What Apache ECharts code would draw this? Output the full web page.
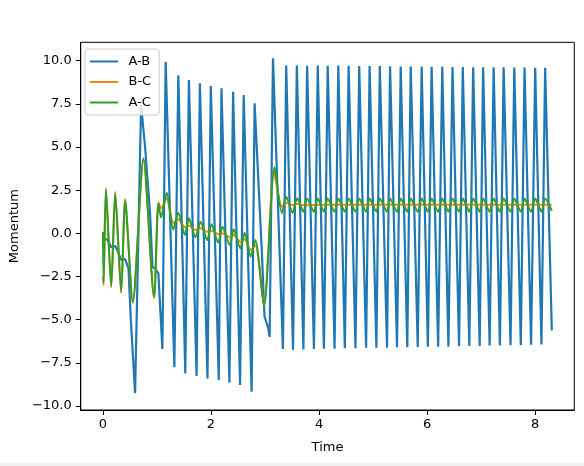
<!DOCTYPE html>
<html>
<head>
<meta charset="utf-8">
<script src="https://cdn.jsdelivr.net/npm/echarts@6/dist/echarts.min.js"></script>
<style>
html,body{margin:0;padding:0;background:#fff;overflow:hidden;}
#chart{width:584px;height:466px;}
#strip{position:absolute;left:0;top:463px;width:584px;height:3px;background:#f0f0f0;}
</style>
</head>
<body>
<div id="chart"></div>
<div id="strip"></div>
<script>
// ---- data ----
var seriesNames = ['A-B', 'B-C', 'A-C'];
var xTicks = [0, 2, 4, 6, 8];
var yTicks = [-10, -7.5, -5, -2.5, 0, 2.5, 5, 7.5, 10];

var abTime = [0, 0.015, 0.08, 0.153, 0.227, 0.276, 0.338, 0.41, 0.473, 0.516, 0.595, 0.706, 0.737, 0.78, 0.872, 0.916, 0.977, 1.026, 1.10, 1.161,
  1.322, 1.395, 1.524, 1.591, 1.733, 1.794, 1.935, 1.996, 2.144, 2.194, 2.341, 2.409, 2.538, 2.605, 2.752, 2.807,
  2.94, 2.99, 3.06, 3.085, 3.147,
  3.331, 3.392, 3.518, 3.589, 3.710, 3.779, 3.905, 3.976, 4.090, 4.160, 4.287, 4.356, 4.477, 4.547, 4.674, 4.743,
  4.871, 4.935, 5.061, 5.124, 5.258, 5.314, 5.443, 5.511, 5.633, 5.696, 5.826, 5.899, 6.014, 6.083, 6.204, 6.280,
  6.394, 6.470, 6.591, 6.660, 6.781, 6.852, 6.973, 7.036, 7.157, 7.231, 7.347, 7.416, 7.544, 7.613, 7.734, 7.803,
  7.924, 8.000, 8.116, 8.184, 8.308];
var abValue = [0.05, -0.35, -0.35, -0.81, -0.74, -1.06, -1.55, -1.49, -2.03, -5.0, -9.26, 7.43, 6.4, 5.0, 1.16, -1.93, -2.08, -2.32, -6.70, 9.93,
  -7.76, 9.15, -8.11, 8.88, -8.26, 8.69, -8.40, 8.53, -8.49, 8.40, -8.63, 8.20, -8.78, 8.01, -9.17, 7.53,
  -1.0, -4.8, -5.5, -6.0, 10.13,
  -6.70, 9.71, -6.75, 9.71, -6.72, 9.70, -6.70, 9.71, -6.68, 9.70, -6.68, 9.71, -6.66, 9.70, -6.66, 9.69,
  -6.63, 9.68, -6.63, 9.68, -6.62, 9.67, -6.60, 9.66, -6.60, 9.66, -6.58, 9.65, -6.57, 9.65, -6.56, 9.64,
  -6.56, 9.63, -6.54, 9.63, -6.53, 9.62, -6.52, 9.62, -6.50, 9.61, -6.50, 9.61, -6.48, 9.60, -6.47, 9.60,
  -6.45, 9.59, -6.44, 9.58, -5.62];

var bcTime = [0, 0.012, 0.055, 0.153, 0.227, 0.337, 0.411, 0.553, 0.750, 0.946, 1.027, 1.075, 1.180, 1.303, 1.395, 1.517,
  1.591, 1.714, 1.806, 1.930, 2.009, 2.133, 2.212, 2.347, 2.420, 2.544, 2.623, 2.734, 2.820, 2.981, 3.166,
  3.312, 3.40, 3.515, 3.60, 3.72, 4.0, 5.0, 6.0, 7.0, 8.308];
var bcValue = [-2.5, -3.0, 2.62, -3.15, 2.40, -3.45, 1.97, -4.02, 4.25, -3.75, 1.78, 1.45, 2.03, 0.61, 0.81, 0.36,
  0.45, 0.19, 0.29, 0.09, 0.15, -0.04, 0.0, -0.23, -0.10, -0.49, -0.35, -0.97, -0.68, -4.15, 3.57,
  1.54, 1.77, 1.64, 1.70, 1.63, 1.66, 1.65, 1.65, 1.65, 1.65];

var acTime = [0, 0.012, 0.055, 0.153, 0.227, 0.337, 0.411, 0.553, 0.750, 0.946, 1.027, 1.075, 1.180, 1.303, 1.395, 1.517,
  1.591, 1.714, 1.806, 1.930, 2.009, 2.133, 2.212, 2.347, 2.420, 2.544, 2.623, 2.734, 2.820, 2.981, 3.176,
  3.312, 3.392, 3.510, 3.594, 3.710,
  3.779, 3.905, 3.976, 4.090, 4.160, 4.287, 4.356, 4.477, 4.547, 4.674, 4.743, 4.871, 4.935, 5.061, 5.124,
  5.258, 5.314, 5.443, 5.511, 5.633, 5.696, 5.826, 5.899, 6.014, 6.083, 6.204, 6.280, 6.394, 6.470, 6.591, 6.660,
  6.781, 6.852, 6.973, 7.036, 7.157, 7.231, 7.347, 7.416, 7.544, 7.613, 7.734, 7.803, 7.924, 8.000, 8.116, 8.184, 8.308];
var acValue = [0.05, -2.85, 2.55, -3.05, 2.32, -3.38, 1.89, -3.96, 4.34, -3.67, 1.74, 0.93, 2.35, 0.23, 1.19, -0.10,
  0.87, -0.23, 0.67, -0.39, 0.52, -0.54, 0.38, -0.68, 0.23, -0.87, 0.03, -1.35, -0.39, -4.21, 3.82,
  1.16, 2.12, 1.19, 2.03, 1.25,
  2.02, 1.25, 2.02, 1.25, 2.02, 1.25, 2.02, 1.25, 2.02, 1.25, 2.02, 1.25, 2.02, 1.25, 2.02,
  1.25, 2.02, 1.25, 2.02, 1.25, 2.02, 1.25, 2.02, 1.25, 2.02, 1.25, 2.02, 1.25, 2.02, 1.25, 2.02,
  1.25, 2.02, 1.25, 2.02, 1.25, 2.02, 1.25, 2.02, 1.25, 2.02, 1.25, 2.02, 1.25, 2.02, 1.25, 2.02, 1.30];

// ---- chart ----
function pairs(ts, vs) { return ts.map(function (t, i) { return [t, vs[i]]; }); }
var colors = ['#1f77b4', '#ff7f0e', '#2ca02c'];
var font = 'DejaVu Sans';
function fmt(v) { return (v < 0 ? '\u2212' : '') + Math.abs(v).toFixed(1); }

var chart = echarts.init(document.getElementById('chart'), null, {renderer: 'canvas'});
chart.setOption({
  animation: false,
  color: colors,
  textStyle: {fontFamily: font},
  grid: {left: 78.7, right: 9.7, top: 42.3, bottom: 56, show: true, borderColor: '#000', borderWidth: 1, backgroundColor: 'transparent'},
  legend: {
    orient: 'vertical', left: 85, top: 49,
    data: seriesNames,
    icon: 'rect',
    itemWidth: 28, itemHeight: 2, itemGap: 6.5,
    padding: [5.5, 8, 5.5, 5],
    backgroundColor: 'rgba(255,255,255,0.8)',
    borderColor: '#cccccc', borderWidth: 1, borderRadius: 3,
    textStyle: {fontFamily: font, fontSize: 13, lineHeight: 14, color: '#000', padding: [0, 0, 0, 5.5]}
  },
  xAxis: {
    type: 'value', min: -0.411, max: 8.724,
    name: 'Time', nameLocation: 'middle', nameGap: 31,
    nameTextStyle: {fontFamily: font, fontSize: 13, color: '#000'},
    axisLine: {show: true, onZero: false, lineStyle: {color: '#000', width: 1}},
    axisTick: {show: true, customValues: xTicks, length: 5, lineStyle: {color: '#000', width: 1}},
    axisLabel: {customValues: xTicks, fontFamily: font, fontSize: 13, color: '#000', margin: 8, formatter: function (v) { return String(v); }},
    splitLine: {show: false}
  },
  yAxis: {
    type: 'value', min: -10.23, max: 11.06,
    name: 'Momentum', nameLocation: 'middle', nameGap: 57, nameRotate: 90,
    nameTextStyle: {fontFamily: font, fontSize: 13, color: '#000'},
    axisLine: {show: true, onZero: false, lineStyle: {color: '#000', width: 1}},
    axisTick: {show: true, customValues: yTicks, length: 5, lineStyle: {color: '#000', width: 1}},
    axisLabel: {customValues: yTicks, fontFamily: font, fontSize: 13, color: '#000', margin: 9, formatter: fmt},
    splitLine: {show: false}
  },
  series: [
    {name: seriesNames[0], type: 'line', data: pairs(abTime, abValue), symbol: 'none', showSymbol: false, lineStyle: {width: 2.2, color: colors[0]}, itemStyle: {color: colors[0]}},
    {name: seriesNames[1], type: 'line', data: pairs(bcTime, bcValue), symbol: 'none', showSymbol: false, smooth: 0.25, lineStyle: {width: 2, color: colors[1]}, itemStyle: {color: colors[1]}},
    {name: seriesNames[2], type: 'line', data: pairs(acTime, acValue), symbol: 'none', showSymbol: false, smooth: 0.25, lineStyle: {width: 2, color: colors[2]}, itemStyle: {color: colors[2]}}
  ]
});
</script>
</body>
</html>
